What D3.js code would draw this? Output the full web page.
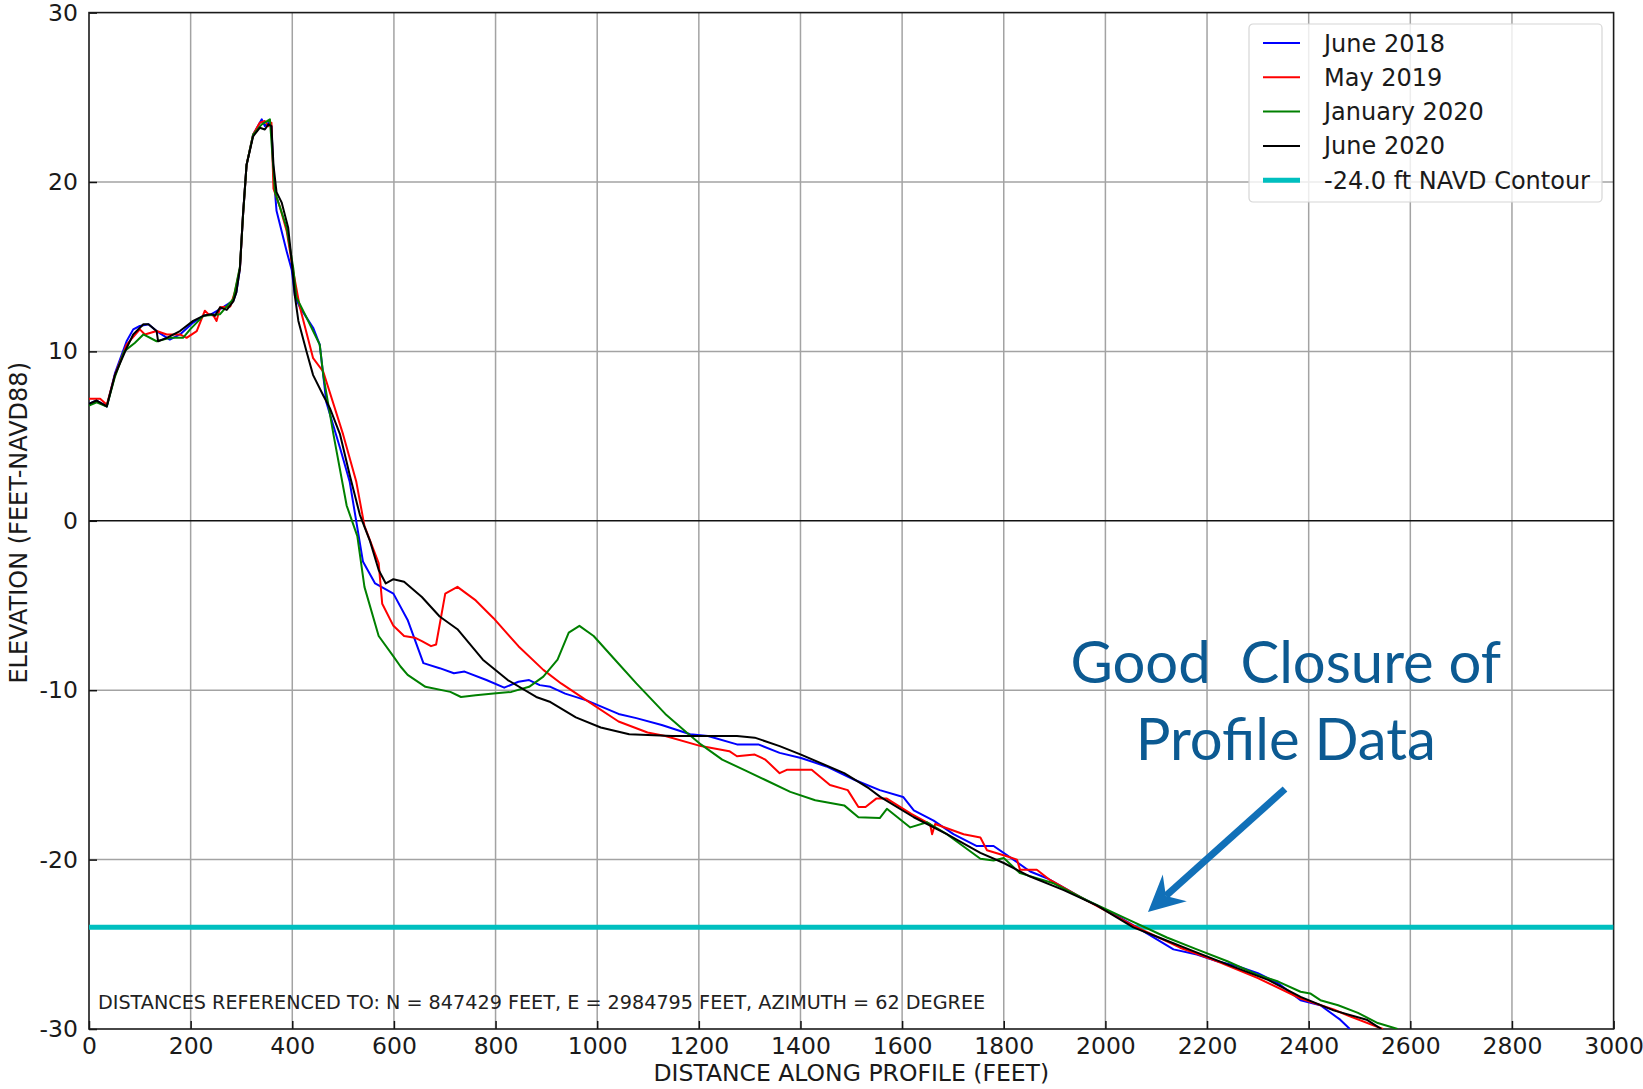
<!DOCTYPE html>
<html>
<head>
<meta charset="utf-8">
<script src="https://cdnjs.cloudflare.com/ajax/libs/d3/7.8.5/d3.min.js"></script>
<style>
  body { margin: 0; background: #fff; }
  svg { display: block; }
</style>
</head>
<body>
<div id="chart"></div>
<script>
// beach profile surveys: [distance along profile (ft), elevation (ft NAVD88)]
const june2018 = [[0,6.9],[15,7.1],[35,6.75],[51,8.7],[74,10.6],[87,11.3],[100,11.5],[117,11.6],[133,11.2],[159,10.7],[179,11.0],[205,11.7],[225,12.1],[241,12.2],[258,12.5],[284,13.0],[290,13.5],[297,14.9],[303,18.0],[310,21.0],[323,22.8],[340,23.7],[346,23.3],[353,23.5],[359,23.3],[363,20.5],[369,18.3],[389,15.9],[399,14.8],[405,13.3],[415,12.6],[441,11.4],[454,10.4],[467,7.0],[494,4.3],[513,2.3],[539,-2.4],[563,-3.7],[599,-4.3],[627,-5.85],[658,-8.4],[690,-8.7],[718,-9.0],[739,-8.9],[782,-9.4],[817,-9.85],[845,-9.5],[866,-9.4],[887,-9.7],[908,-9.8],[937,-10.2],[979,-10.6],[1042,-11.4],[1077,-11.65],[1127,-12.05],[1183,-12.6],[1218,-12.7],[1275,-13.2],[1317,-13.2],[1359,-13.7],[1401,-14.0],[1451,-14.5],[1507,-15.3],[1556,-15.9],[1602,-16.3],[1623,-17.1],[1662,-17.7],[1701,-18.5],[1747,-19.2],[1780,-19.2],[1819,-20.0],[1852,-20.7],[1885,-21.1],[1950,-22.2],[2016,-23.2],[2062,-24.0],[2134,-25.3],[2180,-25.6],[2220,-26.0],[2260,-26.3],[2300,-26.7],[2340,-27.3],[2384,-28.3],[2423,-28.6],[2462,-29.45],[2481,-30]];

const may2019 = [[0,7.2],[22,7.2],[35,6.85],[51,8.6],[74,10.4],[100,11.3],[110,11.0],[133,11.2],[153,11.0],[179,11.0],[192,10.8],[212,11.2],[228,12.4],[235,12.2],[245,12.1],[251,11.8],[258,12.6],[278,12.65],[287,13.5],[297,14.9],[303,18.0],[310,21.0],[323,22.8],[336,23.5],[346,23.6],[353,23.3],[359,23.5],[363,19.6],[376,18.5],[389,17.1],[402,14.7],[415,12.6],[441,9.6],[461,8.8],[500,5.1],[526,2.3],[542,-0.3],[570,-2.5],[577,-4.9],[599,-6.2],[620,-6.8],[641,-6.9],[655,-7.1],[673,-7.4],[683,-7.3],[701,-4.3],[725,-3.9],[761,-4.7],[796,-5.75],[845,-7.4],[894,-8.8],[929,-9.6],[979,-10.6],[1042,-11.85],[1099,-12.5],[1134,-12.7],[1204,-13.3],[1260,-13.6],[1275,-13.9],[1310,-13.8],[1331,-14.1],[1359,-14.9],[1373,-14.7],[1422,-14.7],[1458,-15.6],[1493,-15.9],[1514,-16.9],[1528,-16.9],[1549,-16.4],[1570,-16.4],[1618,-17.3],[1655,-17.9],[1659,-18.5],[1665,-17.9],[1721,-18.5],[1754,-18.7],[1767,-19.45],[1806,-19.8],[1826,-20.0],[1832,-20.6],[1865,-20.6],[1891,-21.2],[1950,-22.2],[2055,-23.9],[2147,-25.2],[2220,-26.0],[2300,-27.0],[2384,-28.2],[2449,-28.85],[2481,-29.25],[2546,-30]];

const jan2020 = [[0,6.8],[15,7.0],[35,6.75],[51,8.5],[69,10.0],[90,10.5],[107,11.0],[133,10.6],[160,10.8],[185,10.8],[199,11.3],[225,12.1],[258,12.2],[284,13.1],[297,15.0],[303,18.0],[310,21.0],[323,22.8],[340,23.4],[356,23.7],[366,19.4],[389,17.3],[402,14.9],[408,13.2],[428,12.0],[454,10.4],[461,8.6],[481,5.1],[507,0.9],[528,-0.9],[542,-3.9],[570,-6.8],[599,-8.0],[613,-8.6],[627,-9.1],[662,-9.8],[711,-10.1],[732,-10.4],[761,-10.3],[796,-10.2],[831,-10.1],[866,-9.8],[894,-9.2],[922,-8.2],[944,-6.6],[965,-6.2],[993,-6.8],[1035,-8.2],[1077,-9.6],[1134,-11.4],[1176,-12.5],[1204,-13.2],[1246,-14.1],[1289,-14.7],[1331,-15.3],[1380,-16.0],[1429,-16.5],[1486,-16.8],[1514,-17.5],[1556,-17.55],[1570,-17.0],[1616,-18.1],[1649,-17.8],[1688,-18.5],[1754,-19.95],[1780,-20.05],[1800,-19.9],[1832,-20.8],[1898,-21.4],[1963,-22.4],[2042,-23.5],[2121,-24.6],[2180,-25.3],[2240,-26.0],[2300,-26.8],[2340,-27.2],[2384,-27.8],[2403,-27.9],[2423,-28.3],[2458,-28.6],[2497,-29.05],[2536,-29.65],[2575,-30]];

const june2020 = [[0,6.9],[15,7.1],[35,6.75],[51,8.6],[74,10.2],[87,11.0],[107,11.6],[117,11.6],[133,11.2],[136,10.6],[153,10.8],[179,11.2],[205,11.8],[225,12.1],[241,12.2],[248,12.1],[258,12.6],[271,12.45],[284,12.95],[290,13.5],[297,14.9],[303,18.1],[310,21.0],[323,22.7],[336,23.2],[346,23.1],[353,23.4],[359,23.3],[363,21.0],[369,19.4],[379,18.8],[392,17.3],[399,15.3],[405,13.3],[412,11.8],[428,10.0],[441,8.6],[461,7.4],[474,6.65],[494,5.1],[513,2.7],[533,0.35],[553,-1.2],[570,-2.9],[584,-3.7],[599,-3.45],[620,-3.6],[655,-4.5],[690,-5.65],[725,-6.4],[775,-8.2],[824,-9.4],[880,-10.4],[908,-10.7],[958,-11.6],[1007,-12.2],[1063,-12.6],[1148,-12.7],[1275,-12.7],[1310,-12.8],[1359,-13.3],[1401,-13.8],[1486,-14.9],[1535,-15.8],[1557,-16.3],[1623,-17.5],[1688,-18.5],[1754,-19.6],[1800,-20.2],[1852,-21.0],[1918,-21.8],[1983,-22.7],[2055,-24.0],[2114,-24.7],[2173,-25.4],[2250,-26.3],[2320,-27.1],[2384,-28.1],[2449,-28.9],[2514,-29.45],[2543,-30]];

const seriesNames = ['June 2018', 'May 2019', 'January 2020', 'June 2020'];
const seriesData = [june2018, may2019, jan2020, june2020];
const seriesColors = ['#0000ff', '#ff0000', '#008000', '#000000'];

const contourElev = -24.0;
const contourLabel = '-24.0 ft NAVD Contour';

const xTicks = d3.range(0, 3001, 200);
const yTicks = [-30, -20, -10, 0, 10, 20, 30];

const footNote = 'DISTANCES REFERENCED TO: N = 847429 FEET, E = 2984795 FEET, AZIMUTH = 62 DEGREE';
const noteLines = ['Good  Closure of', 'Profile Data'];

const W = 1643, H = 1089;
const margin = {top: 12.6, right: 29.4, bottom: 60, left: 89};

const svg = d3.select('#chart').append('svg').attr('width', W).attr('height', H);

const x = d3.scaleLinear().domain([0, 3000]).range([margin.left, W - margin.right]);
const y = d3.scaleLinear().domain([-30, 30]).range([H - margin.bottom, margin.top]);

const font = '"DejaVu Sans", Verdana, sans-serif';

// grid
svg.append('g').selectAll('line').data(xTicks.slice(1, -1)).enter().append('line')
  .attr('x1', d => x(d)).attr('x2', d => x(d))
  .attr('y1', y(-30)).attr('y2', y(30))
  .attr('stroke', '#a3a3a3').attr('stroke-width', 1.5);
svg.append('g').selectAll('line').data(yTicks.slice(1, -1)).enter().append('line')
  .attr('x1', x(0)).attr('x2', x(3000))
  .attr('y1', d => y(d)).attr('y2', d => y(d))
  .attr('stroke', d => d === 0 ? '#111' : '#a3a3a3').attr('stroke-width', 1.5);

// axes with inward ticks
const xAxis = d3.axisBottom(x).tickValues(xTicks).tickSizeInner(-8).tickSizeOuter(0)
  .tickPadding(8).tickFormat(d => String(d));
const yAxis = d3.axisLeft(y).tickValues(yTicks).tickSizeInner(-8).tickSizeOuter(0)
  .tickPadding(11).tickFormat(d => String(d));

const gx = svg.append('g').attr('transform', `translate(0,${y(-30)})`).call(xAxis);
const gy = svg.append('g').attr('transform', `translate(${x(0)},0)`).call(yAxis);
[gx, gy].forEach(g => {
  g.select('.domain').remove();
  g.selectAll('line').attr('stroke', '#111').attr('stroke-width', 1.5);
  g.selectAll('text').attr('font-family', font).attr('font-size', 23.5).attr('fill', '#1a1a1a');
});

// frame
svg.append('rect')
  .attr('x', x(0)).attr('y', y(30))
  .attr('width', x(3000) - x(0)).attr('height', y(-30) - y(30))
  .attr('fill', 'none').attr('stroke', '#1a1a1a').attr('stroke-width', 1.6);

svg.append('clipPath').attr('id', 'plotclip').append('rect')
  .attr('x', x(0)).attr('y', y(30))
  .attr('width', x(3000) - x(0)).attr('height', y(-30) - y(30));

const plot = svg.append('g').attr('clip-path', 'url(#plotclip)');

// contour line
plot.append('line')
  .attr('x1', x(0)).attr('x2', x(3000))
  .attr('y1', y(contourElev)).attr('y2', y(contourElev))
  .attr('stroke', '#00bfbf').attr('stroke-width', 5);

const line = d3.line().x(d => x(d[0])).y(d => y(d[1]));

plot.selectAll('path.profile').data(seriesData).enter().append('path')
  .attr('class', 'profile')
  .attr('d', line)
  .attr('fill', 'none')
  .attr('stroke', (d, i) => seriesColors[i])
  .attr('stroke-width', 2)
  .attr('stroke-linejoin', 'round');

// footnote
svg.append('text')
  .attr('x', x(0) + 9).attr('y', y(-30) - 20)
  .attr('font-family', font).attr('font-size', 19.2).attr('fill', '#222')
  .text(footNote);

// axis titles
svg.append('text')
  .attr('x', (x(0) + x(3000)) / 2).attr('y', H - 8)
  .attr('text-anchor', 'middle')
  .attr('font-family', font).attr('font-size', 23.5).attr('fill', '#1a1a1a')
  .text('DISTANCE ALONG PROFILE (FEET)');
svg.append('text')
  .attr('transform', `translate(27,${(y(30) + y(-30)) / 2 + 2}) rotate(-90)`)
  .attr('text-anchor', 'middle')
  .attr('font-family', font).attr('font-size', 24).attr('fill', '#1a1a1a')
  .text('ELEVATION (FEET-NAVD88)');

// legend
const legendNames = seriesNames.concat([contourLabel]);
const legendColors = seriesColors.concat(['#00bfbf']);
const legend = svg.append('g').attr('transform', 'translate(1249,24)');
legend.append('rect')
  .attr('width', 353).attr('height', 178).attr('rx', 4)
  .attr('fill', '#fff').attr('fill-opacity', 0.8)
  .attr('stroke', '#d6d6d6').attr('stroke-width', 1.2);
const rows = legend.selectAll('g.row').data(legendNames).enter().append('g')
  .attr('transform', (d, i) => `translate(0,${19 + i * 34.3})`);
rows.append('line')
  .attr('x1', 14).attr('x2', 51)
  .attr('stroke', (d, i) => legendColors[i])
  .attr('stroke-width', (d, i) => i === 4 ? 5 : 2);
rows.append('text')
  .attr('x', 75).attr('y', 8.5)
  .attr('font-family', font).attr('font-size', 24).attr('fill', '#1a1a1a')
  .text(d => d);

// annotation
const noteColor = '#0c5a92';
const arrowColor = '#1170b8';
const note = svg.append('g');
noteLines.forEach((t, i) => {
  note.append('text')
    .attr('x', x(2355)).attr('y', 683 + i * 77)
    .attr('text-anchor', 'middle')
    .attr('font-family', 'Lato, "Open Sans", sans-serif')
    .attr('font-size', 58).attr('fill', noteColor)
    .style('white-space', 'pre')
    .text(t);
});

// arrow pointing at where the profiles cross the contour
const tail = [1285, 789], tip = [1148, 912];
const dx = tip[0] - tail[0], dy = tip[1] - tail[1];
const len = Math.hypot(dx, dy);
const ux = dx / len, uy = dy / len, px = -uy, py = ux;
const headLen = 36, headHalf = 18, notch = 24;
const notchPt = [tip[0] - ux * notch, tip[1] - uy * notch];
note.append('line')
  .attr('x1', tail[0]).attr('y1', tail[1])
  .attr('x2', notchPt[0]).attr('y2', notchPt[1])
  .attr('stroke', arrowColor).attr('stroke-width', 7);
note.append('polygon')
  .attr('points', [
    tip,
    [tip[0] - ux * headLen + px * headHalf, tip[1] - uy * headLen + py * headHalf],
    notchPt,
    [tip[0] - ux * headLen - px * headHalf, tip[1] - uy * headLen - py * headHalf]
  ].map(p => p.join(',')).join(' '))
  .attr('fill', arrowColor);
</script>
</body>
</html>
